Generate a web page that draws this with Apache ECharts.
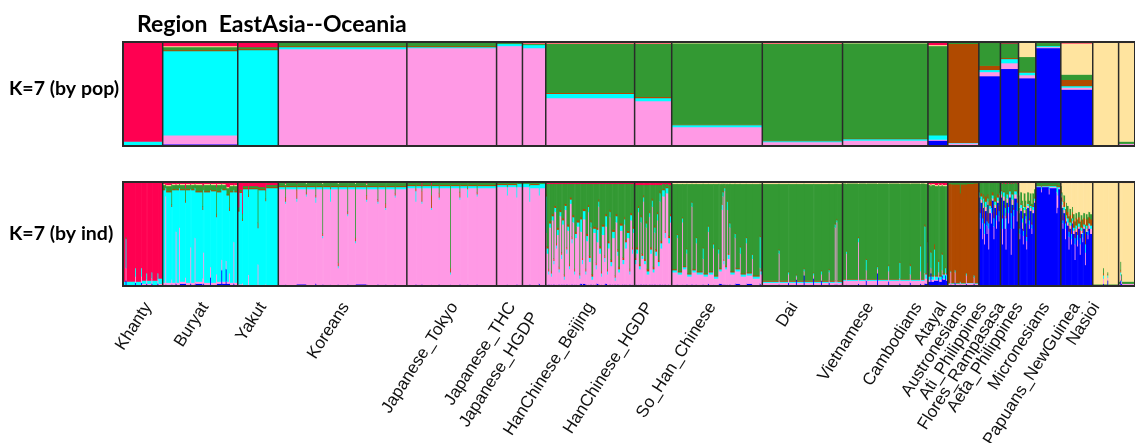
<!DOCTYPE html>
<html><head><meta charset="utf-8">
<script src="https://cdn.jsdelivr.net/npm/echarts@6/dist/echarts.min.js"></script>
<style>html,body{margin:0;padding:0;background:#fff}#c{width:1135px;height:443px}</style>
</head><body><div id="c"></div>
<script>
// ---------------- DATA ----------------
const populations = ['Khanty','Buryat','Yakut','Koreans','Japanese_Tokyo','Japanese_THC','Japanese_HGDP',
  'HanChinese_Beijing','HanChinese_HGDP','So_Han_Chinese','Dai','Vietnamese','Cambodians','Atayal',
  'Austronesians','Ati_Philippines','Flores_Rampasasa','Aeta_Philippines','Micronesians','Papuans_NewGuinea','Nasioi'];
// number of individuals per population (bar widths)
const popSizes = [46,87,47,149,104,30,27,103,43,105,93,99,23,36,25,21,20,29,37,30,24];
// label anchor (in individual index units along the x axis)
const labelAt = [29,95,162,258,384,451,477,542,610,683,778,866,922,951,974,997,1018,1039,1070,1105,1128];
// ancestry components, stacked bottom -> top
const components = ['K1','K2','K3','K4','K5','K6','K7'];
// population means (by pop), order = components
const popMeans = [
  [.01,0,.03,0,0,0,.96],
  [.015,.085,.81,.01,.03,.01,.04],
  [.005,.005,.91,.01,.02,0,.05],
  [.01,.92,.02,.01,.04,0,0],
  [.01,.93,.01,.01,.04,0,0],
  [.01,.95,.02,0,.01,0,.01],
  [.01,.93,.03,0,.01,.005,.015],
  [.01,.45,.04,.01,.47,.005,.015],
  [.01,.42,.03,.01,.51,.005,.015],
  [.01,.17,.02,.005,.785,.005,.01],
  [.01,.025,.01,.005,.93,.005,.015],
  [.01,.04,.015,.005,.915,.005,.01],
  [.05,.01,.04,0,.86,.01,.03],
  [.01,.015,.005,.95,.015,0,.005],
  [.67,.04,.02,.04,.22,0,.01],
  [.74,.055,.04,.01,.14,0,.015],
  [.65,.03,.025,.01,.14,.14,.005],
  [.94,.01,.01,0,.03,.01,0],
  [.54,.02,.015,.06,.05,.30,.015],
  [.004,.002,0,0,.004,.99,0],
  [.01,.01,0,0,.02,.95,.01]
];
// individuals (by ind), run-length groups: [count, K1..K7]
const ind_Khanty = [[3,.01,0,.03,0,0,0,.96],[1,.05,.12,.28,0,.02,0,.53],[10,.01,0,.03,0,0,0,.96],[1,.03,.06,.08,0,0,0,.83],[6,.01,0,.03,0,0,0,.96],[1,.03,.06,.08,0,0,0,.83],[5,.01,.01,.03,0,0,0,.95],[1,.02,.04,.06,0,0,0,.88],[5,.01,.01,.03,0,0,0,.95],[1,.02,.05,.06,0,0,0,.87],[6,.01,0,.04,0,0,0,.95],[1,.02,.04,.06,0,0,0,.88],[5,.01,.01,.05,0,0,0,.93]];
const ind_Buryat = [[3,.01,.02,.89,.01,.04,.01,.02],[1,.01,.85,.08,0,.03,0,.03],[6,.01,.02,.87,.01,.05,.01,.03],[1,.01,.05,.70,.02,.2,0,.02],[4,.01,.02,.89,.01,.04,.01,.02],[1,.02,.5,.4,0,.05,0,.03],[3,.01,.02,.89,.01,.04,.01,.02],[1,.01,.55,.38,0,.04,0,.02],[6,.02,.02,.88,.01,.04,.01,.02],[1,.02,.06,.72,.02,.12,0,.06],[5,.01,.02,.89,.01,.04,.01,.02],[1,.02,.35,.56,0,.04,0,.03],[4,.01,.02,.89,.01,.04,.01,.02],[1,.01,.45,.48,0,.04,0,.02],[8,.02,.02,.86,.01,.06,.01,.02],[1,.01,.06,.66,.03,.2,0,.04],[1,.02,.3,.6,0,.05,0,.03],[7,.01,.02,.87,.01,.06,.01,.02],[1,.08,.1,.74,.01,.05,0,.02],[6,.01,.02,.88,.01,.05,.01,.02],[1,.01,.1,.55,.03,.26,0,.05],[5,.02,.02,.86,.01,.06,.01,.02],[1,.15,.1,.68,0,.05,0,.02],[4,.02,.02,.88,.01,.04,.01,.02],[1,.16,.08,.68,0,.05,0,.03],[3,.02,.02,.83,.01,.06,.01,.05],[1,.02,.1,.6,.03,.2,0,.05],[4,.01,.02,.87,.01,.05,.01,.03],[1,.02,.4,.5,0,.05,0,.03],[4,.01,.02,.87,.01,.05,.01,.03]];
const ind_Yakut = [[2,.005,.01,.7,.02,.02,0,.245],[3,.005,.01,.88,.01,.02,0,.075],[1,.005,.02,.6,.02,.05,0,.305],[6,.005,.005,.92,.01,.02,0,.04],[1,.005,.1,.75,.02,.05,0,.075],[10,.005,.005,.92,.01,.02,0,.04],[1,.005,.2,.35,.05,.35,0,.045],[8,.005,.005,.91,.01,.02,0,.05],[1,.005,.01,.8,.02,.08,0,.085],[14,.005,.005,.93,.01,.02,0,.03]];
const ind_Koreans = [[8,.01,.92,.02,.01,.03,.01,0],[1,.01,.78,.02,.04,.12,.01,.02],[12,.01,.92,.02,.01,.03,.01,0],[1,.01,.8,.03,.08,.06,0,.02],[10,.015,.915,.02,.01,.03,.01,0],[1,.01,.85,.02,.02,.08,.01,.01],[10,.01,.92,.02,.01,.03,.01,0],[1,.02,.78,.05,.02,.12,.01,0],[7,.01,.92,.02,.01,.03,.01,0],[1,.01,.45,.02,.02,.48,.01,.01],[8,.01,.92,.02,.01,.03,.01,0],[1,.01,.8,.12,.01,.05,.01,0],[8,.01,.92,.02,.01,.03,.01,0],[1,.01,.16,.02,.03,.76,.01,.01],[10,.01,.92,.02,.01,.03,.01,0],[1,.01,.66,.02,.02,.28,.01,0],[8,.01,.92,.02,.01,.03,.01,0],[1,.01,.4,.02,.03,.52,.01,.01],[12,.015,.915,.02,.01,.03,.01,0],[1,.01,.8,.02,.04,.1,.01,.02],[12,.01,.92,.02,.01,.03,.01,0],[1,.01,.78,.02,.02,.16,.01,0],[8,.01,.92,.02,.01,.03,.01,0],[1,.01,.72,.02,.04,.2,.01,0],[10,.01,.92,.02,.01,.03,.01,0],[1,.01,.84,.02,.02,.1,.01,0],[13,.01,.92,.02,.01,.03,.01,0]];
const ind_JapaneseTokyo = [[10,.01,.93,.02,.01,.03,0,0],[1,.01,.8,.1,.02,.06,0,.01],[6,.01,.93,.02,.01,.03,0,0],[1,.01,.78,.02,.1,.05,0,.04],[10,.01,.93,.02,.01,.03,0,0],[1,.01,.72,.02,.12,.1,0,.03],[8,.01,.93,.02,.01,.03,0,0],[1,.01,.82,.02,.04,.1,0,.01],[12,.01,.93,.02,.01,.03,0,0],[1,.01,.1,.02,.04,.82,0,.01],[10,.01,.93,.02,.01,.03,0,0],[1,.01,.82,.02,.05,.09,0,.01],[8,.01,.93,.02,.01,.03,0,0],[1,.01,.84,.08,.01,.05,0,.01],[10,.01,.93,.02,.01,.03,0,0],[1,.01,.85,.02,.02,.09,0,.01],[22,.01,.93,.02,.01,.03,0,0]];
const ind_JapaneseTHC = [[12,.01,.94,.02,.01,.02,0,0],[1,.01,.86,.08,.01,.04,0,0],[10,.01,.94,.02,.01,.02,0,0],[1,.01,.84,.1,0,.05,0,0],[6,.01,.94,.03,0,.02,0,0]];
const ind_JapaneseHGDP = [[8,.01,.94,.03,0,.01,.005,.005],[1,.01,.8,.15,0,.03,0,.01],[10,.01,.93,.03,.01,.01,.005,.005],[1,.02,.85,.1,0,.02,0,.01],[7,.01,.93,.04,0,.01,.005,.005]];
const ind_HanBeijing = [[1,.01,.5,.35,.02,.1,0,.02],[2,.01,.3,.05,.02,.6,0,.02],[1,.01,.1,.03,.02,.82,0,.02],[2,.01,.55,.04,.02,.36,0,.02],[1,.01,.08,.03,.02,.84,0,.02],[2,.01,.62,.04,.02,.29,0,.02],[1,.01,.2,.03,.02,.72,0,.02],[2,.01,.7,.04,.02,.21,0,.02],[1,.01,.35,.03,.02,.57,0,.02],[2,.01,.48,.05,.02,.42,0,.02],[1,.01,.12,.03,.02,.8,0,.02],[2,.01,.66,.04,.02,.25,0,.02],[1,.01,.25,.04,.02,.66,0,.02],[2,.01,.58,.04,.02,.33,0,.02],[1,.01,.05,.03,.02,.87,0,.02],[2,.01,.72,.04,.02,.19,0,.02],[1,.01,.3,.04,.02,.61,0,.02],[2,.01,.52,.04,.02,.39,0,.02],[1,.01,.15,.03,.02,.77,0,.02],[2,.01,.78,.04,.02,.13,0,.02],[1,.01,.4,.04,.02,.51,0,.02],[2,.01,.6,.05,.02,.3,0,.02],[1,.01,.1,.03,.02,.82,0,.02],[2,.01,.45,.04,.02,.46,0,.02],[3,.01,.56,.04,.02,.35,0,.02],[1,.01,.06,.03,.02,.86,0,.02],[2,.02,.5,.12,.02,.32,0,.02],[1,.01,.2,.04,.02,.71,0,.02],[3,.02,.62,.08,.02,.24,0,.02],[1,.01,.1,.03,.02,.82,0,.02],[2,.01,.42,.05,.02,.48,0,.02],[1,.01,.7,.05,.02,.2,0,.02],[2,.01,.22,.04,.02,.69,0,.02],[1,.01,.55,.05,.02,.35,0,.02],[2,.01,.05,.03,.02,.87,0,.02],[3,.01,.5,.04,.02,.41,0,.02],[1,.01,.15,.04,.02,.76,0,.02],[2,.02,.4,.12,.02,.42,0,.02],[1,.01,.75,.05,.02,.15,0,.02],[2,.01,.3,.05,.02,.6,0,.02],[1,.01,.08,.03,.02,.84,0,.02],[3,.01,.48,.08,.02,.39,0,.02],[1,.01,.22,.04,.02,.69,0,.02],[2,.02,.55,.1,.02,.29,0,.02],[1,.01,.1,.03,.02,.82,0,.02],[2,.01,.35,.05,.02,.55,0,.02],[1,.01,.65,.05,.02,.25,0,.02],[2,.01,.18,.04,.02,.73,0,.02],[3,.01,.45,.06,.02,.44,0,.02],[1,.01,.04,.03,.02,.88,0,.02],[2,.01,.6,.06,.02,.29,0,.02],[1,.01,.28,.04,.02,.63,0,.02],[2,.01,.12,.03,.02,.8,0,.02],[3,.01,.52,.05,.02,.38,0,.02],[2,.01,.2,.04,.02,.71,0,.02],[1,.01,.58,.05,.02,.32,0,.02],[2,.01,.35,.06,.02,.54,0,.02],[3,.01,.45,.05,.02,.45,0,.02],[1,.01,.1,.03,.02,.82,0,.02],[2,.01,.62,.05,.02,.28,0,.02],[1,.01,.3,.04,.02,.61,0,.02],[2,.01,.5,.04,.02,.41,0,.02]];
const ind_HanHGDP = [[2,.01,.2,.04,.02,.7,0,.03],[2,.01,.3,.04,.02,.6,0,.03],[1,.01,.7,.04,.02,.2,0,.03],[2,.01,.15,.03,.02,.76,0,.03],[1,.01,.6,.05,.02,.29,0,.03],[2,.01,.25,.03,.02,.66,0,.03],[1,.01,.8,.04,.02,.1,0,.03],[2,.01,.2,.03,.02,.71,0,.03],[1,.01,.55,.04,.02,.35,0,.03],[3,.01,.1,.03,.02,.81,0,.03],[1,.01,.65,.04,.02,.25,0,.03],[2,.01,.3,.04,.02,.6,0,.03],[1,.01,.75,.06,.02,.13,0,.03],[2,.01,.12,.03,.02,.79,0,.03],[1,.01,.5,.05,.02,.39,0,.03],[2,.01,.28,.04,.02,.62,0,.03],[1,.01,.62,.06,.02,.26,0,.03],[2,.01,.18,.04,.02,.72,0,.03],[1,.01,.8,.08,.02,.06,0,.03],[2,.01,.35,.05,.02,.54,0,.03],[3,.01,.85,.06,.01,.05,0,.02],[1,.01,.45,.05,.02,.44,0,.03],[3,.01,.88,.05,.01,.03,0,.02],[2,.01,.4,.05,.02,.49,0,.03],[2,.01,.6,.06,.02,.28,0,.03]];
const ind_SoHan = [[6,.01,.12,.02,.01,.82,.01,.01],[1,.01,.45,.03,.01,.48,.01,.01],[5,.01,.1,.02,.01,.84,.01,.01],[1,.01,.6,.04,.01,.32,.01,.01],[4,.01,.15,.02,.01,.79,.01,.01],[1,.01,.3,.04,.01,.62,.01,.01],[5,.01,.08,.02,.01,.86,.01,.01],[1,.01,.75,.04,.01,.17,.01,.01],[4,.01,.12,.02,.01,.82,.01,.01],[1,.01,.4,.05,.01,.51,.01,.01],[7,.01,.1,.02,.01,.84,.01,.01],[1,.01,.25,.1,.01,.61,.01,.01],[5,.01,.08,.02,.01,.86,.01,.01],[1,.02,.5,.05,.01,.4,.01,.01],[5,.01,.1,.02,.01,.84,.01,.01],[1,.01,.35,.04,.01,.57,.01,.01],[5,.01,.06,.02,.01,.88,.01,.01],[1,.01,.3,.04,.01,.62,.01,.01],[3,.02,.12,.02,.01,.81,.01,.01],[1,.01,.72,.05,.01,.19,.01,.01],[1,.01,.85,.04,.01,.07,.01,.01],[1,.01,.2,.03,.01,.73,.01,.01],[1,.01,.9,.03,.01,.03,.01,.01],[2,.01,.15,.02,.01,.79,.01,.01],[1,.01,.72,.08,.01,.16,.01,.01],[2,.01,.25,.04,.01,.67,.01,.01],[1,.01,.55,.04,.01,.37,.01,.01],[5,.01,.1,.02,.01,.84,.01,.01],[1,.01,.45,.04,.01,.47,.01,.01],[5,.02,.12,.02,.01,.81,.01,.01],[1,.01,.3,.06,.01,.6,.01,.01],[6,.01,.08,.02,.01,.86,.01,.01],[1,.01,.4,.05,.01,.51,.01,.01],[6,.02,.08,.02,.01,.85,.01,.01],[1,.01,.25,.04,.01,.67,.01,.01],[8,.01,.06,.02,.01,.88,.01,.01],[1,.02,.15,.3,.01,.5,.01,.01],[2,.01,.1,.03,.01,.83,.01,.01]];
const ind_Dai = [[19,.01,.02,.01,.01,.93,.01,.01],[1,.01,.3,.03,.01,.63,.01,.01],[10,.01,.02,.01,.01,.93,.01,.01],[1,.03,.08,.02,.01,.84,.01,.01],[8,.01,.02,.01,.01,.93,.01,.01],[1,.06,.03,.01,.01,.87,.01,.01],[8,.01,.02,.01,.01,.93,.01,.01],[1,.1,.04,.02,.01,.81,.01,.01],[10,.01,.02,.01,.01,.93,.01,.01],[1,.07,.03,.02,.01,.85,.01,.01],[8,.01,.02,.01,.01,.93,.01,.01],[1,.05,.06,.03,.01,.83,.01,.01],[8,.01,.02,.01,.01,.93,.01,.01],[1,.03,.1,.02,.01,.82,.01,.01],[6,.01,.02,.01,.01,.93,.01,.01],[1,.01,.55,.03,.01,.38,.01,.01],[1,.01,.02,.01,.01,.93,.01,.01],[1,.01,.6,.02,.01,.34,.01,.01],[6,.01,.02,.01,.01,.93,.01,.01]];
const ind_Vietnamese = [[4,.01,.04,.01,.005,.92,.005,.01],[1,.01,.3,.02,.01,.64,.01,.01],[13,.01,.04,.01,.005,.92,.005,.01],[1,.02,.4,.04,.01,.51,.01,.01],[8,.01,.04,.01,.005,.92,.005,.01],[1,.05,.1,.1,.01,.72,.01,.01],[12,.01,.04,.01,.005,.92,.005,.01],[1,.12,.04,.02,.01,.79,.01,.01],[12,.01,.04,.01,.005,.92,.005,.01],[1,.04,.1,.05,.01,.78,.01,.01],[12,.01,.04,.01,.005,.92,.005,.01],[1,.02,.05,.15,.01,.75,.01,.01],[11,.01,.04,.01,.005,.92,.005,.01],[1,.03,.08,.08,.02,.77,.01,.01],[11,.01,.04,.01,.005,.92,.005,.01],[1,.02,.12,.24,.01,.59,.01,.01],[4,.01,.04,.01,.005,.92,.005,.01],[1,.02,.1,.45,.02,.39,.01,.01],[2,.02,.05,.04,.01,.86,.01,.01],[1,.02,.2,.2,.01,.55,.01,.01]];
const ind_Cambodians = [[3,.04,.02,.03,.01,.87,.01,.02],[1,.12,.05,.15,.02,.62,.01,.03],[3,.04,.02,.03,.01,.87,.01,.02],[1,.05,.05,.25,.05,.57,.01,.02],[4,.05,.01,.03,.01,.86,.01,.03],[1,.08,.05,.1,.02,.72,.01,.02],[3,.04,.02,.03,.01,.86,.01,.03],[1,.1,.05,.15,.02,.65,.01,.02],[3,.06,.01,.04,.01,.84,.01,.03],[1,.1,.02,.05,.01,.78,.01,.03],[2,.05,.01,.05,.01,.84,.01,.03]];
const ind_Atayal = [[3,.01,.01,.005,.95,.02,0,.005],[1,.01,.12,.01,.84,.02,0,0],[4,.01,.01,.005,.95,.02,0,.005],[1,.03,.1,.02,.82,.03,0,0],[5,.01,.01,.005,.95,.02,0,.005],[1,.01,.02,.01,.85,.11,0,0],[6,.01,.01,.005,.95,.02,0,.005],[1,.02,.08,.02,.85,.03,0,0],[8,.01,.015,.005,.95,.015,0,.005],[1,.02,.06,.02,.88,.02,0,0],[5,.01,.01,.005,.96,.01,0,.005]];
const ind_Austronesians = [[1,.85,.02,.03,.02,.07,0,.01],[1,.55,.1,.05,.05,.24,0,.01],[2,.8,.03,.03,.03,.1,0,.01],[1,.45,.15,.05,.1,.24,0,.01],[1,.75,.05,.04,.04,.11,0,.01],[1,.4,.1,.1,.12,.27,0,.01],[2,.72,.04,.05,.05,.13,0,.01],[1,.5,.08,.04,.08,.29,0,.01],[1,.78,.03,.03,.04,.11,0,.01],[1,.35,.2,.05,.1,.29,0,.01],[2,.7,.04,.03,.05,.17,0,.01],[1,.6,.1,.05,.06,.18,0,.01],[2,.82,.02,.03,.03,.09,0,.01],[1,.45,.12,.08,.06,.28,0,.01],[2,.75,.03,.03,.04,.14,0,.01],[1,.55,.08,.05,.07,.24,0,.01],[2,.8,.02,.03,.03,.11,0,.01],[1,.62,.05,.05,.05,.22,0,.01],[1,.85,.02,.02,.02,.08,0,.01]];
const ind_Ati = [[2,.85,.03,.03,.01,.07,0,.01],[1,.4,.15,.1,.03,.3,0,.02],[2,.82,.04,.04,.01,.08,0,.01],[1,.55,.12,.08,.03,.2,0,.02],[1,.35,.2,.1,.05,.28,0,.02],[2,.8,.04,.04,.01,.1,0,.01],[1,.6,.1,.06,.02,.2,0,.02],[2,.85,.03,.03,.01,.07,0,.01],[1,.3,.25,.15,.02,.26,0,.02],[2,.78,.05,.05,.01,.1,0,.01],[1,.55,.12,.06,.02,.23,0,.02],[3,.84,.04,.03,.01,.07,0,.01],[1,.62,.1,.08,.02,.16,0,.02],[1,.8,.05,.04,.01,.09,0,.01]];
const ind_Flores = [[1,.7,.03,.03,.01,.1,.12,.01],[1,.45,.05,.05,.02,.18,.24,.01],[2,.72,.03,.03,.01,.11,.09,.01],[1,.55,.06,.04,.02,.15,.17,.01],[1,.4,.08,.05,.02,.2,.24,.01],[2,.7,.03,.03,.01,.12,.1,.01],[1,.6,.04,.03,.01,.14,.17,.01],[1,.35,.08,.04,.02,.25,.25,.01],[2,.75,.02,.02,.01,.1,.09,.01],[1,.55,.04,.04,.02,.17,.17,.01],[2,.72,.03,.02,.01,.11,.1,.01],[1,.5,.05,.04,.02,.18,.2,.01],[2,.7,.03,.03,.01,.12,.1,.01],[2,.8,.02,.02,.01,.08,.06,.01]];
const ind_Aeta = [[6,.95,.005,.005,.005,.03,.005,0],[1,.9,.03,.02,.01,.03,.01,0],[8,.95,.005,.005,.005,.03,.005,0],[1,.88,.05,.03,.01,.02,.01,0],[8,.94,.01,.01,.005,.03,.005,0],[1,.7,.2,.05,.01,.03,.01,0],[1,.75,.12,.08,.02,.02,.01,0],[3,.93,.01,.01,.01,.03,.01,0]];
const ind_Micronesians = [[1,.85,.02,.02,.03,.04,.03,.01],[1,.75,.03,.03,.04,.05,.09,.01],[1,.55,.05,.03,.05,.07,.24,.01],[2,.7,.03,.03,.05,.06,.12,.01],[1,.45,.1,.05,.06,.08,.25,.01],[1,.62,.03,.03,.06,.06,.19,.01],[2,.58,.03,.04,.06,.06,.22,.01],[1,.35,.12,.05,.07,.08,.32,.01],[2,.55,.03,.03,.07,.06,.25,.01],[1,.4,.05,.05,.08,.07,.34,.01],[1,.6,.02,.03,.06,.05,.23,.01],[2,.5,.03,.03,.07,.06,.3,.01],[1,.25,.15,.06,.08,.08,.37,.01],[2,.52,.03,.03,.07,.05,.29,.01],[1,.38,.06,.05,.08,.07,.35,.01],[2,.55,.02,.03,.06,.05,.28,.01],[1,.3,.1,.06,.08,.08,.37,.01],[2,.5,.03,.03,.07,.05,.31,.01],[1,.42,.04,.05,.07,.06,.35,.01],[2,.55,.02,.02,.06,.05,.29,.01],[1,.2,.12,.08,.1,.09,.4,.01],[2,.52,.03,.03,.06,.05,.3,.01],[1,.45,.04,.04,.07,.06,.33,.01],[2,.55,.03,.02,.06,.05,.28,.01],[2,.5,.05,.03,.06,.05,.3,.01]];
const ind_Papuans = [[12,.005,.005,0,0,.005,.985,.005],[1,.02,.05,.03,.02,.05,.82,.01],[4,.005,.005,0,0,.005,.985,.005],[1,.05,.03,.02,.01,.02,.86,.01],[12,.005,.005,0,0,.005,.985,.005]];
const ind_Nasioi = [[2,.01,.01,0,0,.02,.95,.01],[1,.05,.05,.03,.02,.08,.76,.01],[1,.02,.02,.01,.01,.05,.88,.01],[20,.01,.01,0,0,.02,.95,.01]];
const individuals = [ind_Khanty, ind_Buryat, ind_Yakut, ind_Koreans, ind_JapaneseTokyo, ind_JapaneseTHC, ind_JapaneseHGDP,
  ind_HanBeijing, ind_HanHGDP, ind_SoHan, ind_Dai, ind_Vietnamese, ind_Cambodians, ind_Atayal, ind_Austronesians,
  ind_Ati, ind_Flores, ind_Aeta, ind_Micronesians, ind_Papuans, ind_Nasioi];

// ---------------- STYLE ----------------
const COLORS = ['#0000FF','#FF99E5','#00FFFF','#B04A00','#339933','#FFE49F','#FF0051'];
const X_MAX = 1173;
const LABEL_FONT = '17px "Liberation Sans", Arial, sans-serif';
const LABEL_ANGLE = 57.5 * Math.PI / 180;
const LABEL_GAP = 18;
const LABEL_DROP = {Japanese_HGDP: 10};

// ---------------- BUILD ----------------
const starts = [];
{ let s = 0; popSizes.forEach(n => { starts.push(s); s += n; }); }
const popData = popMeans.map((m, i) => [starts[i], starts[i] + popSizes[i]].concat(m));
const indData = [];
individuals.forEach((runs, i) => {
  let s = starts[i];
  runs.forEach(r => { indData.push([s, s + r[0]].concat(r.slice(1))); s += r[0]; });
});
const boundaries = starts.slice(1);

function barRender(params, api) {
  const cs = params.coordSys;
  const x0 = api.value(0), x1 = api.value(1);
  const fr = []; let tot = 0;
  for (let k = 0; k < 7; k++) { const f = api.value(2 + k); fr.push(f); tot += f; }
  const children = []; let cum = 0;
  for (let k = 0; k < 7; k++) {
    const f = fr[k] / tot;
    if (f <= 0) continue;
    const p0 = api.coord([x0, cum]);
    const p1 = api.coord([x1, cum + f]);
    cum += f;
    const r = echarts.graphic.clipRectByRect(
      {x: p0[0], y: p1[1] - 0.6, width: p1[0] - p0[0] + 0.6, height: p0[1] - p1[1] + 0.6},
      {x: cs.x, y: cs.y, width: cs.width, height: cs.height});
    if (r) children.push({type: 'rect', shape: r, style: {fill: COLORS[k]}});
  }
  return {type: 'group', children};
}
function sepRender(params, api) {
  const a = api.coord([api.value(0), 0]);
  const b = api.coord([api.value(0), 1]);
  return {type: 'line', shape: {x1: a[0], y1: a[1], x2: b[0], y2: b[1]}, style: {stroke: '#2a2a2a', lineWidth: 1.5}};
}
function frameRender(params) {
  const cs = params.coordSys;
  return {type: 'rect', shape: {x: cs.x, y: cs.y, width: cs.width, height: cs.height}, style: {fill: 'none', stroke: '#2a2a2a', lineWidth: 2}};
}
function labelRender(params, api) {
  const p = api.coord([api.value(0), 0]);
  const name = populations[params.dataIndex];
  return {type: 'text', x: p[0], y: p[1] + LABEL_GAP + (LABEL_DROP[name] || 0), rotation: LABEL_ANGLE,
    style: {text: name, align: 'right', verticalAlign: 'middle', font: LABEL_FONT, fill: '#111'}};
}

const chart = echarts.init(document.getElementById('c'), null, {renderer: 'canvas'});
const axisOff = {show: false};
const kStyle = {fontFamily: 'Lato', fontWeight: 'bold', fontSize: 19.5, color: '#000'};
chart.setOption({
  animation: false,
  backgroundColor: '#fff',
  title: [
    {text: 'Region  EastAsia--Oceania', left: 132, top: 8, textStyle: {fontFamily: 'Lato', fontWeight: 'bold', fontSize: 23, color: '#000'}},
    {text: 'K=7 (by pop)', left: 4, top: 74, textStyle: kStyle},
    {text: 'K=7 (by ind)', left: 4, top: 219, textStyle: kStyle}
  ],
  grid: [
    {left: 123, right: -2, top: 42, height: 104, show: false},
    {left: 123, right: -2, top: 182, height: 104, show: false}
  ],
  xAxis: [
    {type: 'value', gridIndex: 0, min: 0, max: X_MAX, ...axisOff},
    {type: 'value', gridIndex: 1, min: 0, max: X_MAX, ...axisOff}
  ],
  yAxis: [
    {type: 'value', gridIndex: 0, min: 0, max: 1, ...axisOff},
    {type: 'value', gridIndex: 1, min: 0, max: 1, ...axisOff}
  ],
  series: [
    {type: 'custom', name: 'by pop', xAxisIndex: 0, yAxisIndex: 0, data: popData, renderItem: barRender, encode: {x: [0, 1]}, z: 1},
    {type: 'custom', name: 'by ind', xAxisIndex: 1, yAxisIndex: 1, data: indData, renderItem: barRender, encode: {x: [0, 1]}, z: 1},
    {type: 'custom', xAxisIndex: 0, yAxisIndex: 0, data: boundaries.map(b => [b]), renderItem: sepRender, encode: {x: 0}, z: 3},
    {type: 'custom', xAxisIndex: 1, yAxisIndex: 1, data: boundaries.map(b => [b]), renderItem: sepRender, encode: {x: 0}, z: 3},
    {type: 'custom', xAxisIndex: 0, yAxisIndex: 0, data: [[0]], renderItem: frameRender, encode: {x: 0}, z: 4},
    {type: 'custom', xAxisIndex: 1, yAxisIndex: 1, data: [[0]], renderItem: frameRender, encode: {x: 0}, z: 4},
    {type: 'custom', xAxisIndex: 1, yAxisIndex: 1, data: labelAt.map(v => [v]), renderItem: labelRender, encode: {x: 0}, z: 5}
  ]
});
</script></body></html>
